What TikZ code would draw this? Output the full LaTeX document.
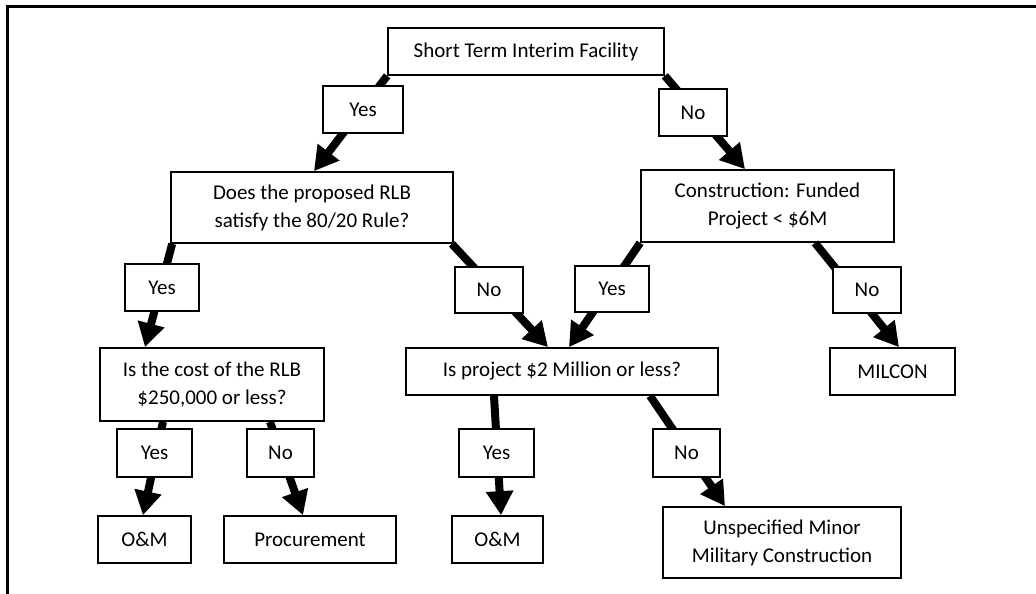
\documentclass[tikz,border=0pt]{standalone}
\usepackage{fontspec}
\setmainfont{Carlito}
\usetikzlibrary{arrows.meta}

\tikzset{
  box/.style={draw=black, line width=1.7pt, fill=white, rectangle, inner sep=0pt,
    align=center, font=\fontsize{21}{28}\selectfont},
  answer/.style={box},
  flow/.style={line width=8pt, -{Triangle[length=24pt, width=26pt]}},
  frame/.style={line width=3pt}
}

\begin{document}
\begin{tikzpicture}[x=1pt, y=-1pt]
  \useasboundingbox (0,0) rectangle (1036,594);

  % page frame
  \coordinate (fa) at (7.5,594);
  \coordinate (fb) at (7.5,7);
  \coordinate (fc) at (1036,7);
  \draw[frame] (fa) -- (fb) -- (fc);

  % decision and outcome boxes
  \node[box, minimum width=276pt, minimum height=47pt] (top) at (526,51.5) {Short Term Interim Facility};
  \node[box, minimum width=282pt, minimum height=71pt] (does) at (312,207.5) {Does the proposed RLB\\satisfy the 80/20 Rule?};
  \node[box, minimum width=253pt, minimum height=72pt] (cons) at (767.5,206) {Construction: Funded\\Project < \$6M};
  \node[box, minimum width=224pt, minimum height=73pt] (cost) at (212,384.5) {Is the cost of the RLB\\\$250,000 or less?};
  \node[box, minimum width=312pt, minimum height=47pt] (proj) at (562,371.5) {Is project \$2 Million or less?};
  \node[box, minimum width=125pt, minimum height=47pt] (milcon) at (892.5,371.5) {MILCON};
  \node[box, minimum width=93pt, minimum height=47pt] (om1) at (144.5,539.5) {O\&M};
  \node[box, minimum width=172pt, minimum height=47pt] (proc) at (310,539.5) {Procurement};
  \node[box, minimum width=91pt, minimum height=47pt] (om2) at (497.5,539.5) {O\&M};
  \node[box, minimum width=238pt, minimum height=71pt] (umc) at (782,542.5) {Unspecified Minor\\Military Construction};

  % connectors
  \draw[flow] (top.south west) -- ([xshift=2pt]does.north);
  \draw[flow] (top.south east) -- ([xshift=-22.5pt]cons.north);
  \draw[flow] ([xshift=2pt]does.south west) -- ([xshift=-67pt]cost.north);
  \draw[flow] ([xshift=-2pt]does.south east) -- ([xshift=-14pt]proj.north);
  \draw[flow] (cons.south west) -- ([xshift=7pt]proj.north);
  \draw[flow] ([xshift=47.5pt]cons.south) -- ([xshift=6.5pt]milcon.north);
  \draw[flow] ([xshift=-49pt]cost.south) -- ([xshift=-1.5pt]om1.north);
  \draw[flow] ([xshift=58pt]cost.south) -- ([xshift=-7pt]proc.north);
  \draw[flow] ([xshift=-68pt]proj.south) -- ([xshift=3.5pt]om2.north);
  \draw[flow] ([xshift=88pt]proj.south) -- ([xshift=-57pt]umc.north);

  % answer labels on the connectors
  \node[answer, minimum width=80pt, minimum height=47pt] (y1) at (363,109.5) {Yes};
  \node[answer, minimum width=68pt, minimum height=47pt] (n1) at (693,112.5) {No};
  \node[answer, minimum width=74pt, minimum height=47pt] (y2) at (162,287.5) {Yes};
  \node[answer, minimum width=68pt, minimum height=46pt] (n2) at (489,290) {No};
  \node[answer, minimum width=74pt, minimum height=46pt] (y3) at (612,289) {Yes};
  \node[answer, minimum width=68pt, minimum height=46pt] (n3) at (867,290) {No};
  \node[answer, minimum width=75pt, minimum height=48pt] (y4) at (154.5,453) {Yes};
  \node[answer, minimum width=67pt, minimum height=48pt] (n4) at (280.5,453) {No};
  \node[answer, minimum width=75pt, minimum height=48pt] (y5) at (496.5,453) {Yes};
  \node[answer, minimum width=67pt, minimum height=48pt] (n5) at (686.5,453) {No};
\end{tikzpicture}
\end{document}
